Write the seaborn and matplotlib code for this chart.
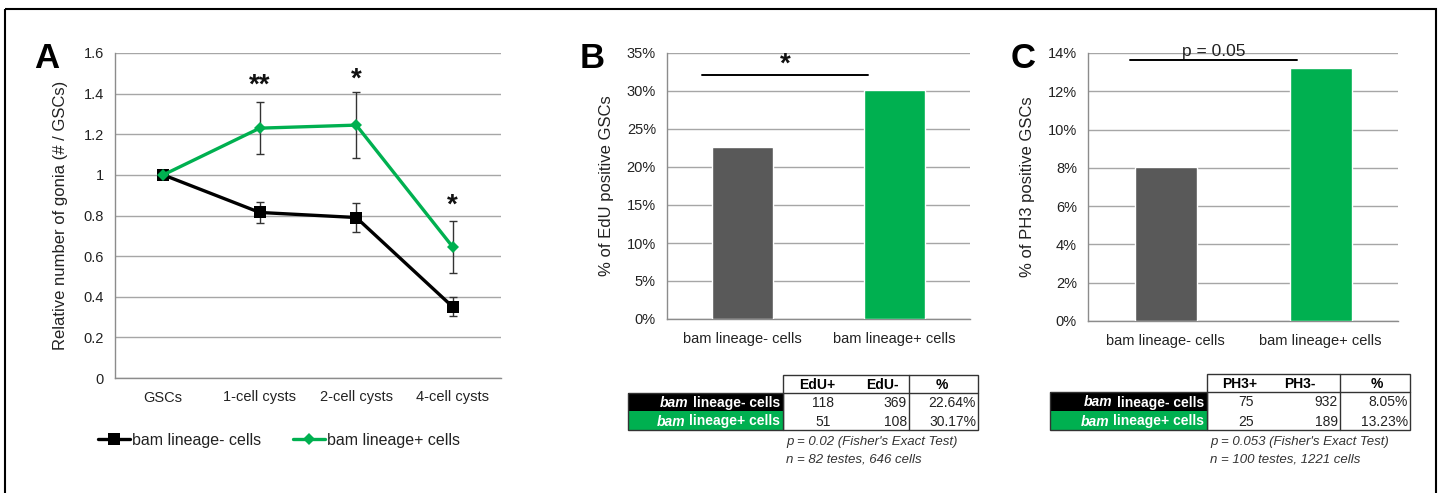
import numpy as np
import pandas as pd
import matplotlib
matplotlib.use("Agg")
import matplotlib.pyplot as plt
from matplotlib.patches import Rectangle
from matplotlib.lines import Line2D
import seaborn as sns

# ---------------- data ----------------
stages = ["GSCs", "1-cell cysts", "2-cell cysts", "4-cell cysts"]
neg_vals = [1.0, 0.815, 0.79, 0.35]
neg_err = [0.0, 0.052, 0.073, 0.047]
pos_vals = [1.0, 1.23, 1.245, 0.645]
pos_err = [0.0, 0.127, 0.163, 0.13]
stars_A = ["", "**", "*", "*"]
series_names = ["bam lineage- cells", "bam lineage+ cells"]

groups = ["bam lineage- cells", "bam lineage+ cells"]
edu_pct = [22.64, 30.17]
ph3_pct = [8.05, 13.23]

edu_table = {"cols": ["EdU+", "EdU-", "%"], "rows": [[118, 369, "22.64%"], [51, 108, "30.17%"]]}
ph3_table = {"cols": ["PH3+", "PH3-", "%"], "rows": [[75, 932, "8.05%"], [25, 189, "13.23%"]]}
edu_notes = ["p = 0.02 (Fisher's Exact Test)", "n = 82 testes, 646 cells"]
ph3_notes = ["p = 0.053 (Fisher's Exact Test)", "n = 100 testes, 1221 cells"]

GREEN = "#00B050"
DGRAY = "#595959"
GRID = "#A6A6A6"

sns.set_theme(style="white")
plt.rcParams["font.family"] = ["Liberation Sans", "DejaVu Sans"]

W, H = 1442, 493
fig = plt.figure(figsize=(W / 100, H / 100), dpi=100)


def px_axes(x0, y0, x1, y1):
    return fig.add_axes([x0 / W, 1 - y1 / H, (x1 - x0) / W, (y1 - y0) / H])


def excel_style(ax, ncat):
    for s in ["top", "right"]:
        ax.spines[s].set_visible(False)
    for s in ["left", "bottom"]:
        ax.spines[s].set_color("#8C8C8C")
        ax.spines[s].set_linewidth(1.0)
    ax.yaxis.grid(True, color=GRID, linewidth=1.0)
    ax.set_axisbelow(True)
    ax.set_xlim(-0.5, ncat - 0.5)
    ax.set_xticks(range(ncat))
    ax.set_xticks(np.arange(-0.5, ncat, 1.0), minor=True)
    ax.tick_params(axis="x", which="major", length=0, labelsize=10.5, pad=9, colors="#222222")
    ax.tick_params(axis="x", which="minor", length=5, width=1, color="#8C8C8C", direction="out")
    ax.tick_params(axis="y", which="major", length=4, width=1, color="#8C8C8C",
                   direction="out", labelsize=10.5, pad=4, labelcolor="#222222")


# ---------------- Panel A ----------------
axA = px_axes(115, 53, 501, 378)
dfA = pd.DataFrame({
    "stage": list(range(4)) * 2,
    "value": neg_vals + pos_vals,
    "series": [series_names[0]] * 4 + [series_names[1]] * 4,
})
sns.lineplot(data=dfA, x="stage", y="value", hue="series", style="series",
             palette={series_names[0]: "black", series_names[1]: GREEN},
             markers={series_names[0]: "s", series_names[1]: "D"},
             dashes=False, linewidth=2.4, markersize=8, markeredgewidth=0,
             ax=axA, legend=False, zorder=3)
for line, ms in zip(axA.lines, [9, 6.5]):
    line.set_markersize(ms)
axA.errorbar(range(4), neg_vals, yerr=neg_err, fmt="none", ecolor="#333333",
             elinewidth=1, capsize=3, capthick=1, zorder=2)
axA.errorbar(range(4), pos_vals, yerr=pos_err, fmt="none", ecolor="#333333",
             elinewidth=1, capsize=3, capthick=1, zorder=2)
excel_style(axA, 4)
axA.set_ylim(0, 1.6)
axA.set_yticks(np.arange(0, 1.61, 0.2))
axA.set_yticklabels(["0", "0.2", "0.4", "0.6", "0.8", "1", "1.2", "1.4", "1.6"])
axA.set_xticklabels(stages)
axA.set_xlabel("")
axA.set_ylabel("Relative number of gonia (# / GSCs)", fontsize=12, color="#222222", labelpad=11)
star_y = [0, 1.44, 1.47, 0.85]
for i, s in enumerate(stars_A):
    if s:
        axA.text(i, star_y[i], s, ha="center", va="center", fontsize=20, fontweight="bold", color="#111111")
handles = [Line2D([], [], color="black", marker="s", lw=2.4, ms=8, mew=0),
           Line2D([], [], color=GREEN, marker="D", lw=2.4, ms=6, mew=0)]
fig.legend(handles, series_names, loc="center", bbox_to_anchor=(279 / W, 1 - 440 / H),
           ncol=2, frameon=False, fontsize=11.5, handlelength=2.0, handletextpad=0.1,
           columnspacing=2.0, labelcolor="#222222")


# ---------------- bar panels ----------------
def bar_panel(box, vals, ymax, step, ylabel, fmt):
    ax = px_axes(*box)
    dfb = pd.DataFrame({"group": groups, "pct": vals})
    sns.barplot(data=dfb, x="group", y="pct", hue="group",
                palette={groups[0]: DGRAY, groups[1]: GREEN},
                width=0.4, legend=False, ax=ax, saturation=1, zorder=3)
    excel_style(ax, 2)
    ax.set_ylim(0, ymax)
    ax.set_yticks(np.arange(0, ymax + 0.01, step))
    ax.set_yticklabels([fmt(v) for v in np.arange(0, ymax + 0.01, step)])
    ax.set_xticklabels(groups)
    ax.set_xlabel("")
    ax.set_ylabel(ylabel, fontsize=12, color="#222222", labelpad=9)
    return ax


axB = bar_panel((667, 53, 970, 319), edu_pct, 35, 5, "% of EdU positive GSCs",
                lambda v: f"{v:.0f}%")
axB.plot([-0.27, 0.83], [32.1, 32.1], color="black", lw=1.4, clip_on=False)
axB.text(0.28, 33.5, "*", ha="center", va="center", fontsize=20, fontweight="bold", color="#111111")

axC = bar_panel((1088, 53, 1398, 321), ph3_pct, 14, 2, "% of PH3 positive GSCs",
                lambda v: f"{v:.0f}%")
axC.plot([-0.23, 0.85], [13.63, 13.63], color="black", lw=1.4, clip_on=False)
axC.text(0.31, 13.68, "p = 0.05", ha="center", va="bottom", fontsize=12.5, color="#222222")

# ---------------- overlay: labels, tables, frame ----------------
ov = fig.add_axes([0, 0, 1, 1])
ov.set_xlim(0, W)
ov.set_ylim(H, 0)
ov.axis("off")
ov.set_zorder(-1)

ov.add_patch(Rectangle((5, 9), 1431, 490, fill=False, lw=1.5, ec="black", clip_on=False))
for lab, x in [("A", 47), ("B", 592), ("C", 1023)]:
    ov.text(x, 58, lab, ha="center", va="center", fontsize=25, fontweight="bold", color="black")

fig.canvas.draw()
renderer = fig.canvas.get_renderer()


def draw_table(x0, xh, xsep, x1, ys, table, notes, colx):
    yh0, yh1, y1, y2 = ys
    ov.add_patch(Rectangle((xh, yh0), x1 - xh, y2 - yh0, fill=False, lw=1.0, ec="#333333"))
    ov.plot([xh, x1], [yh1, yh1], color="#333333", lw=1.0)
    ov.plot([xsep, xsep], [yh0, y2], color="#333333", lw=1.0)
    ov.add_patch(Rectangle((x0, yh1), xh - x0, y1 - yh1, color="black", lw=0))
    ov.add_patch(Rectangle((x0, y1), xh - x0, y2 - y1, color=GREEN, lw=0))
    ov.add_patch(Rectangle((x0, yh1), xh - x0, y2 - yh1, fill=False, lw=1.0, ec="#333333"))
    for c, cx in zip(table["cols"], colx):
        ov.text(cx, (yh0 + yh1) / 2 + 1, c, ha="center", va="center", fontsize=10,
                fontweight="bold", color="black")
    for r, (ya, yb) in enumerate([(yh1, y1), (y1, y2)]):
        yc = (ya + yb) / 2 + 1
        t = ov.text(xh - 3, yc, groups[r][4:], ha="right", va="center", fontsize=10,
                    fontweight="bold", color="white")
        bb = t.get_window_extent(renderer)
        ov.text(bb.x0 - 4, yc, "bam", ha="right", va="center", fontsize=10,
                fontweight="bold", style="italic", color="white")
        row = table["rows"][r]
        ov.text(colx[0] + 6, yc, str(row[0]), ha="center", va="center", fontsize=10, color="#222222")
        ov.text(xsep - 2, yc, str(row[1]), ha="right", va="center", fontsize=10, color="#222222")
        ov.text(x1 - 2, yc, row[2], ha="right", va="center", fontsize=10, color="#222222")
    ov.text(xh + 3, 442, notes[0], ha="left", va="center", fontsize=9.5, style="italic", color="#333333")
    ov.text(xh + 3, 460, notes[1], ha="left", va="center", fontsize=9.5, style="italic", color="#333333")


draw_table(628, 783, 909, 978, (375, 393, 411, 430), edu_table, edu_notes, [817, 882, 942])
draw_table(1050, 1207, 1340, 1410, (374, 392, 411, 430), ph3_table, ph3_notes, [1240, 1300, 1377])

fig.savefig("out.png", dpi=100, facecolor="white")
